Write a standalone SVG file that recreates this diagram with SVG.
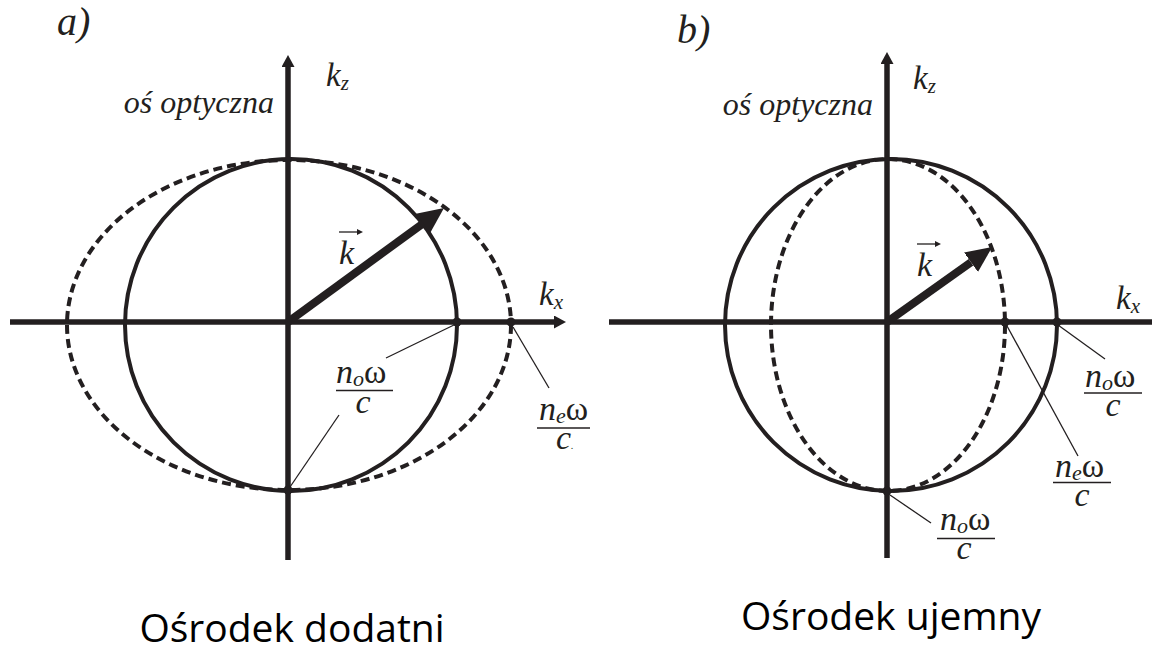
<svg xmlns="http://www.w3.org/2000/svg" width="1152" height="652" viewBox="0 0 1152 652">
<style>
.ax{stroke:#231f20;stroke-width:5.5;fill:none}
.sol{stroke:#231f20;stroke-width:4;fill:none}
.dash{stroke:#231f20;stroke-width:4;fill:none;stroke-dasharray:9 5}
.vec{stroke:#231f20;stroke-width:8;fill:none}
.lead{stroke:#231f20;stroke-width:1.3;fill:none}
.bar{stroke:#231f20;stroke-width:1.5}
.dot{fill:#231f20}
.it{font-family:"Liberation Serif","Times New Roman",serif;font-style:italic;fill:#231f20}
.up{font-family:"Liberation Serif","Times New Roman",serif;font-style:normal;fill:#231f20}
.cap{font-family:"Open Sans","Noto Sans",sans-serif;fill:#000;font-size:39px}
</style>
<defs>
<marker id="axh" viewBox="0 0 12 13" refX="0" refY="6.5" markerWidth="12" markerHeight="13" markerUnits="userSpaceOnUse" orient="auto">
<path d="M0,0 L12,6.5 L0,13 Z" fill="#231f20"/>
</marker>
<marker id="vech" viewBox="0 0 26 24" refX="0" refY="12" markerWidth="26" markerHeight="24" markerUnits="userSpaceOnUse" orient="auto">
<path d="M0,0 L26,12 L0,24 Z" fill="#231f20"/>
</marker>
<marker id="smh" viewBox="0 0 6 6" refX="0" refY="3" markerWidth="6" markerHeight="6" markerUnits="userSpaceOnUse" orient="auto">
<path d="M0,0 L6,3 L0,6 Z" fill="#231f20"/>
</marker>
</defs>

<!-- Panel a -->
<g id="panel-a">
<text class="it" x="57" y="35" font-size="40">a)</text>
<g id="a-curves">
<circle class="sol" cx="291" cy="325" r="166"/>
<ellipse class="dash" cx="289" cy="325" rx="222" ry="165"/>
</g>
<g id="a-axes">
<line class="ax" x1="10" y1="322" x2="554" y2="322" marker-end="url(#axh)"/>
<line class="ax" x1="288" y1="560" x2="288" y2="67" marker-end="url(#axh)"/>
</g>
<g id="a-kz"><text class="it" x="326" y="86" font-size="33">k<tspan font-size="21" dy="4">z</tspan></text></g>
<g id="a-kx"><text class="it" x="539" y="305" font-size="33">k<tspan font-size="21" dy="4">x</tspan></text></g>
<g id="a-os"><text class="it" x="274" y="113" font-size="32" text-anchor="end">oś optyczna</text></g>
<g id="a-vec">
<line class="vec" x1="288" y1="322" x2="423" y2="223.4" marker-end="url(#vech)"/>
<line class="lead" x1="339" y1="232" x2="357" y2="232" marker-end="url(#smh)"/>
<text class="it" x="339" y="264" font-size="34">k</text>
</g>
<g id="a-dots">
<circle class="dot" cx="457" cy="322" r="4.5"/>
<circle class="dot" cx="511" cy="322" r="4.5"/>
<circle class="dot" cx="288" cy="490" r="4.5"/>
</g>
<g id="a-leaders">
<line class="lead" x1="456" y1="324" x2="386" y2="358"/>
<line class="lead" x1="290" y1="487" x2="339" y2="415"/>
<line class="lead" x1="513" y1="327" x2="549" y2="388"/>
</g>
<g id="a-no">
<text class="it" x="336" y="383" font-size="34">n<tspan font-size="22" dy="3">o</tspan><tspan class="up" dy="-3">ω</tspan></text>
<line class="bar" x1="336" y1="390.5" x2="393" y2="390.5"/>
<text class="it" x="363" y="413" font-size="34" text-anchor="middle">c</text>
</g>
<g id="a-ne">
<text class="it" x="539" y="420" font-size="34">n<tspan font-size="22" dy="3">e</tspan><tspan class="up" dy="-3">ω</tspan></text>
<line class="bar" x1="537" y1="428" x2="590" y2="428"/>
<text class="it" x="556" y="449" font-size="34">c<tspan font-size="10">.</tspan></text>
</g>
<text class="cap" x="292" y="642" text-anchor="middle">Ośrodek dodatni</text>
</g>

<!-- Panel b -->
<g id="panel-b">
<text class="it" x="677" y="43" font-size="40">b)</text>
<g id="b-curves">
<circle class="sol" cx="891" cy="325" r="166"/>
<ellipse class="dash" cx="888" cy="325" rx="117" ry="166"/>
</g>
<g id="b-axes">
<line class="ax" x1="609" y1="322" x2="1152" y2="322"/>
<line class="ax" x1="887" y1="558" x2="887" y2="64" marker-end="url(#axh)"/>
</g>
<g id="b-kz"><text class="it" x="913" y="89" font-size="33">k<tspan font-size="21" dy="4">z</tspan></text></g>
<g id="b-kx"><text class="it" x="1116" y="309" font-size="33">k<tspan font-size="21" dy="4">x</tspan></text></g>
<g id="b-os"><text class="it" x="873" y="115" font-size="32" text-anchor="end">oś optyczna</text></g>
<g id="b-vec">
<line class="vec" x1="887" y1="322" x2="971" y2="262.2" marker-end="url(#vech)"/>
<line class="lead" x1="917" y1="244" x2="935" y2="244" marker-end="url(#smh)"/>
<text class="it" x="917" y="276" font-size="34">k</text>
</g>
<g id="b-dots">
<circle class="dot" cx="1005" cy="322" r="4.5"/>
<circle class="dot" cx="1057" cy="322" r="4.5"/>
<circle class="dot" cx="887" cy="491" r="4.5"/>
</g>
<g id="b-leaders">
<line class="lead" x1="1058" y1="325" x2="1105" y2="359"/>
<line class="lead" x1="1007" y1="326" x2="1078" y2="456"/>
<line class="lead" x1="890" y1="495" x2="931" y2="523"/>
</g>
<g id="b-no1">
<text class="it" x="1085" y="387" font-size="34">n<tspan font-size="22" dy="3">o</tspan><tspan class="up" dy="-3">ω</tspan></text>
<line class="bar" x1="1084" y1="393" x2="1142" y2="393"/>
<text class="it" x="1113" y="416" font-size="34" text-anchor="middle">c</text>
</g>
<g id="b-ne">
<text class="it" x="1055" y="477" font-size="34">n<tspan font-size="22" dy="3">e</tspan><tspan class="up" dy="-3">ω</tspan></text>
<line class="bar" x1="1053" y1="482.5" x2="1111" y2="482.5"/>
<text class="it" x="1082" y="506" font-size="34" text-anchor="middle">c</text>
</g>
<g id="b-no2">
<text class="it" x="940" y="530" font-size="34">n<tspan font-size="22" dy="3">o</tspan><tspan class="up" dy="-3">ω</tspan></text>
<line class="bar" x1="937" y1="538.5" x2="995" y2="538.5"/>
<text class="it" x="964" y="559" font-size="34" text-anchor="middle">c</text>
</g>
<text class="cap" x="891" y="630" text-anchor="middle">Ośrodek ujemny</text>
</g>
</svg>
